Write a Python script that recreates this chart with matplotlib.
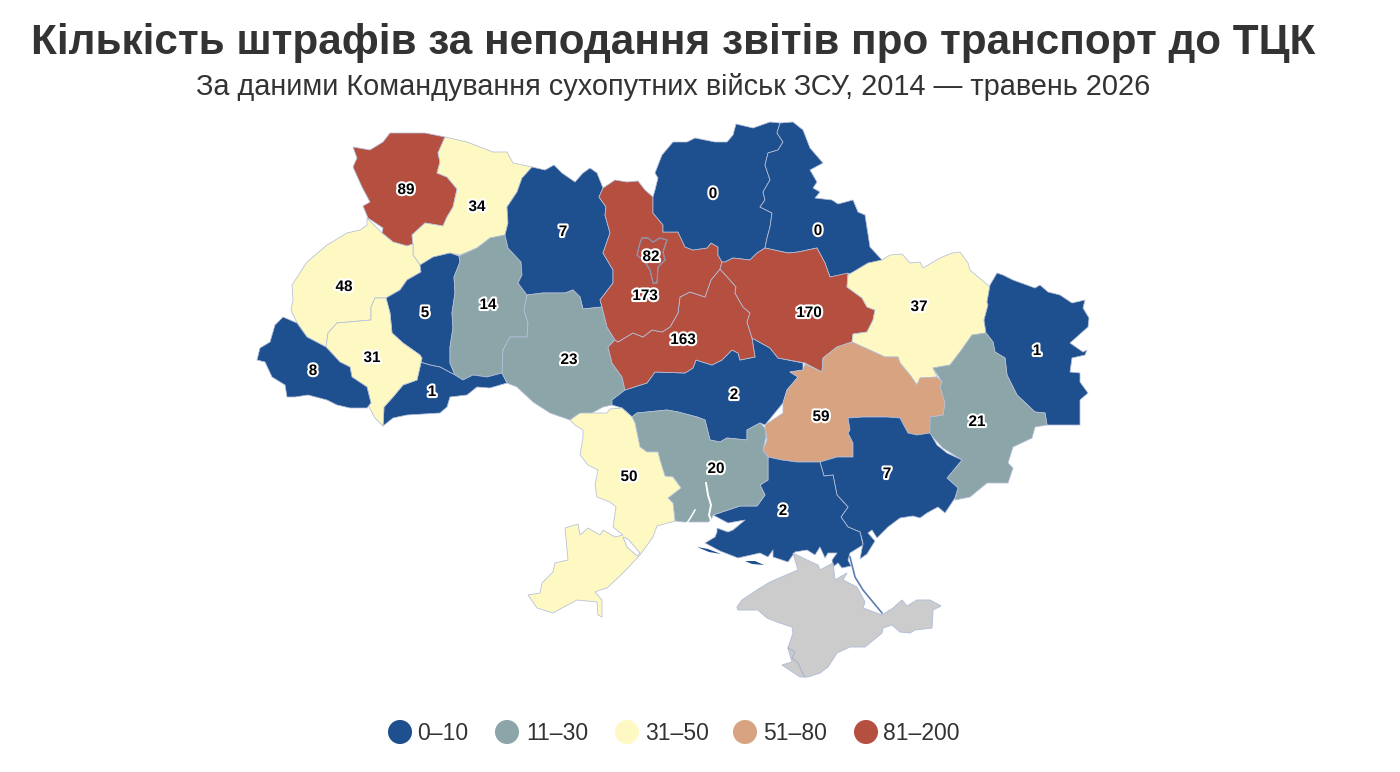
import matplotlib
matplotlib.use("Agg")
from matplotlib import pyplot as plt
from matplotlib import patheffects as pe

plt.rcParams['font.family'] = ['Liberation Sans', 'DejaVu Sans']

title = "Кількість штрафів за неподання звітів про транспорт до ТЦК"
subtitle = "За даними Командування сухопутних військ ЗСУ, 2014 — травень 2026"

# bins of the legend
bin_labels = ["0–10", "11–30", "31–50", "51–80", "81–200"]
bin_tops = [10, 30, 50, 80, 200]
bin_colors = ["#1e4f8e", "#8ba5a9", "#fef9c3", "#d8a380", "#b55041"]

# oblast values
regions = ["volyn", "rivne", "lviv", "ternopil", "khmelnytskyi", "chernivtsi", "frankivsk", "zakarpattia",
           "zhytomyr", "vinnytsia", "kirovohrad", "cherkasy", "kyiv_obl", "kyiv_city", "chernihiv", "sumy",
           "poltava", "kharkiv", "luhansk", "donetsk", "dnipro", "zaporizhzhia", "kherson", "mykolaiv", "odesa"]
values = [89, 34, 48, 5, 14, 1, 31, 8,
          7, 23, 2, 163, 173, 82, 0, 0,
          170, 37, 1, 21, 59, 7, 2, 20, 50]
label_x = [406, 477, 344, 425, 488, 432, 372, 313,
           563, 569, 734, 683, 645, 651, 713, 818,
           809, 919, 1037, 977, 821, 887, 783, 716, 629]
label_y = [190, 207, 287, 313, 305, 392, 358, 371,
           232, 360, 395, 340, 296, 257, 194, 231,
           313, 307, 351, 422, 417, 474, 511, 469, 477]

# outlines
volyn = [(353,147),(370,150),(383,142),(390,133),(425,133),(445,137),(438,153),(440,162),(437,173),(447,177),
         (457,189),(453,207),(447,217),(443,226),(425,223),(412,235),(413,244),(407,246),(393,242),(382,233),
         (383,228),(368,218),(363,206),(370,202),(362,187),(353,167),(357,158)]
rivne = [(445,137),(467,142),(493,152),(507,152),(513,163),(532,167),(528,175),(522,178),(517,192),(507,207),
         (508,223),(505,235),(490,238),(477,248),(460,255),(450,253),(435,257),(420,265),(413,255),(413,244),
         (412,235),(425,223),(443,226),(447,217),(453,207),(457,189),(447,177),(437,173),(440,162),(438,153)]
lviv = [(367,218),(382,233),(393,242),(407,246),(413,244),(413,255),(420,265),(421,272),(407,280),(400,290),
        (386,298),(375,298),(371,307),(371,320),(337,323),(328,333),(326,347),(307,337),(297,323),(291,310),
        (293,300),(292,285),(307,262),(327,245),(347,233),(360,230),(367,225)]
ternopil = [(420,265),(433,257),(450,253),(459,256),(460,262),(454,277),(455,293),(452,313),(453,328),(450,347),
            (450,363),(455,375),(440,367),(430,365),(420,362),(420,355),(403,343),(392,333),(390,313),(386,298),
            (400,290),(407,280),(421,272)]
khmelnytskyi = [(459,256),(477,248),(490,238),(505,235),(508,248),(521,262),(522,275),(518,283),(527,295),(524,310),
                (528,323),(527,337),(510,337),(503,350),(502,373),(487,377),(473,375),(463,380),(455,375),(450,363),
                (450,347),(453,328),(452,313),(455,293),(454,277),(460,262)]
chernivtsi = [(420,362),(430,365),(440,367),(455,375),(463,380),(473,375),(487,377),(502,373),(507,383),(490,388),
              (477,387),(467,395),(450,397),(447,407),(440,413),(407,415),(393,418),(383,426),(384,407),(393,397),
              (403,385),(417,380),(422,358)]
frankivsk = [(371,320),(371,307),(375,298),(386,298),(390,313),(392,333),(403,343),(420,355),(422,358),(417,380),
             (403,385),(393,397),(384,407),(383,426),(375,418),(368,405),(371,403),(367,387),(352,377),(350,367),
             (340,362),(326,347),(328,333),(337,323)]
zakarpattia = [(283,317),(297,323),(307,337),(326,347),(340,362),(350,367),(352,377),(367,387),(371,403),(367,408),
               (350,408),(337,405),(327,400),(308,395),(295,397),(287,397),(285,385),(272,377),(265,362),(257,360),
               (260,348),(270,342),(275,325)]
zhytomyr = [(532,167),(545,170),(554,165),(562,173),(575,182),(583,173),(590,168),(597,173),(603,188),(599,197),
            (606,207),(605,215),(610,233),(603,253),(613,270),(613,283),(600,300),(602,307),(583,309),(580,297),
            (573,290),(565,293),(543,293),(527,295),(518,283),(522,275),(521,262),(508,248),(505,235),(508,223),
            (507,207),(517,192),(522,178)]
vinnytsia = [(527,295),(543,293),(565,293),(573,290),(580,297),(583,309),(602,307),(607,327),(615,340),(608,347),
             (612,363),(622,377),(625,390),(612,400),(612,405),(603,407),(590,414),(577,415),(570,420),(550,413),
             (533,402),(517,387),(507,383),(502,373),(503,350),(510,337),(527,337),(528,323),(524,310)]
kirovohrad = [(625,390),(647,383),(655,372),(685,373),(693,368),(696,360),(712,365),(722,360),(732,350),(738,353),
              (740,360),(755,357),(752,338),(770,348),(778,358),(803,363),(803,370),(790,372),(798,377),(787,390),
              (783,403),(765,425),(760,423),(747,430),(747,440),(727,438),(720,442),(710,440),(705,420),(697,417),
              (678,412),(667,410),(637,413),(632,417),(622,408),(612,405),(612,400)]
cherkasy = [(615,340),(618,342),(633,333),(643,337),(652,330),(662,332),(670,327),(678,313),(680,297),(690,292),
            (705,297),(711,280),(720,269),(730,280),(736,287),(735,293),(743,307),(750,313),(747,322),(752,338),
            (755,357),(740,360),(738,353),(732,350),(722,360),(712,365),(696,360),(693,368),(685,373),(655,372),
            (647,383),(625,390),(622,377),(612,363),(608,347)]
kyiv_obl = [(603,188),(615,180),(627,182),(638,181),(645,190),(653,197),(653,213),(663,225),(663,232),(678,232),
            (685,247),(693,250),(707,248),(711,243),(718,247),(718,255),(722,262),(720,269),(711,280),(705,297),
            (690,292),(680,297),(678,313),(670,327),(662,332),(652,330),(643,337),(633,333),(618,342),(615,340),
            (607,327),(602,307),(600,300),(613,283),(613,270),(603,253),(610,233),(605,215),(606,207),(599,197)]
kyiv_city = [(642,238),(648,238),(653,242),(660,238),(667,240),(663,252),(665,260),(658,267),(657,283),(653,283),
             (650,270),(645,262),(637,255),(640,243)]
chernihiv = [(653,197),(655,190),(658,178),(655,173),(662,155),(673,142),(687,142),(695,138),(715,142),(727,142),
             (733,135),(736,124),(753,128),(770,122),(780,123),(777,133),(783,142),(778,150),(768,153),(765,165),
             (770,180),(763,192),(765,200),(760,207),(772,213),(770,227),(767,238),(765,248),(757,253),(750,260),
             (733,258),(725,262),(722,262),(718,255),(718,247),(711,243),(707,248),(693,250),(685,247),(678,232),
             (663,232),(663,225),(653,213)]
sumy = [(780,123),(793,122),(803,130),(810,148),(823,163),(810,170),(817,182),(813,188),(820,192),(815,198),
        (832,200),(838,204),(853,200),(858,212),(865,215),(870,247),(882,260),(867,265),(852,273),(830,277),
        (825,263),(817,248),(798,252),(788,253),(765,248),(767,238),(770,227),(772,213),(760,207),(765,200),
        (763,192),(770,180),(765,165),(768,153),(778,150),(783,142),(777,133)]
poltava = [(722,262),(725,262),(733,258),(750,260),(757,253),(765,248),(788,253),(798,252),(817,248),(825,263),
           (830,277),(848,273),(847,287),(862,298),(867,307),(875,310),(873,320),(867,332),(853,334),(852,342),
           (837,347),(823,358),(822,372),(805,363),(778,358),(770,348),(752,338),(747,322),(750,313),(743,307),
           (735,293),(736,287),(730,280),(720,269)]
kharkiv = [(848,275),(868,263),(882,260),(890,255),(902,254),(910,263),(920,262),(923,268),(940,258),(952,253),
           (960,252),(968,263),(970,270),(990,287),(987,302),(988,305),(984,320),(986,333),(972,335),(960,352),
           (950,365),(933,368),(937,377),(920,378),(917,385),(910,375),(900,363),(898,357),(885,357),(863,347),
           (852,342),(853,334),(867,332),(873,320),(875,310),(867,307),(862,298),(847,287)]
luhansk = [(990,285),(997,273),(1003,275),(1013,280),(1035,288),(1040,285),(1048,292),(1060,295),(1072,303),(1085,300),
           (1083,308),(1089,318),(1088,327),(1070,343),(1083,352),(1087,350),(1085,355),(1072,358),(1070,372),(1080,373),
           (1080,382),(1088,393),(1080,400),(1080,425),(1047,425),(1045,413),(1035,412),(1017,395),(1007,375),(1005,358),
           (995,352),(993,342),(986,333),(984,320),(988,305),(987,302)]
donetsk = [(972,335),(986,333),(993,342),(995,352),(1005,358),(1007,375),(1017,395),(1035,412),(1045,413),(1047,425),
           (1035,427),(1032,438),(1013,447),(1008,463),(1013,468),(1008,483),(987,483),(970,497),(955,500),(958,488),
           (947,478),(960,463),(962,460),(943,448),(928,432),(930,417),(943,415),(945,403),(940,387),(942,382),
           (933,368),(950,365),(960,352)]
dnipro = [(823,358),(837,347),(852,342),(863,347),(885,357),(898,357),(900,363),(910,375),(917,385),(920,378),
          (937,377),(942,382),(940,387),(945,403),(943,415),(930,417),(930,433),(917,435),(908,433),(900,418),
          (887,417),(863,417),(848,418),(850,430),(848,433),(853,443),(853,457),(837,457),(820,462),(797,462),
          (782,460),(768,457),(763,450),(767,440),(765,425),(783,413),(783,403),(787,390),(798,377),(790,372),
          (803,370),(805,364),(822,372)]
zaporizhzhia = [(820,462),(837,457),(853,457),(853,443),(848,433),(850,430),(848,418),(863,417),(887,417),(900,418),
                (908,433),(917,435),(930,433),(937,445),(947,453),(962,460),(947,478),(958,488),(955,498),(945,513),
                (938,507),(927,513),(920,518),(913,516),(900,518),(888,527),(877,538),(872,530),(868,533),(875,541),
                (867,554),(860,559),(863,543),(860,532),(848,527),(841,517),(848,507),(837,495),(833,475),(824,476)]
kherson = [(768,457),(782,460),(797,462),(820,462),(824,476),(833,475),(837,495),(848,507),(841,517),(848,527),
           (860,532),(863,545),(850,553),(848,560),(851,566),(842,568),(838,563),(833,567),(832,560),(837,553),
           (828,553),(825,558),(820,547),(815,555),(807,550),(795,552),(788,562),(773,557),(773,550),(768,557),
           (760,553),(738,558),(720,551),(705,543),(715,537),(717,532),(717,528),(728,532),(733,530),(745,520),
           (728,523),(713,515),(740,506),(757,506),(765,495),(760,485),(768,480)]
tendra = [(697,547),(708,549),(721,554),(709,552)]
dzharylhach = [(745,561),(755,561),(764,565),(752,564)]
mykolaiv = [(632,417),(637,413),(667,410),(678,412),(697,417),(705,420),(710,440),(720,442),(727,438),(747,440),
            (747,430),(760,423),(765,428),(766,437),(763,450),(768,457),(768,480),(760,485),(765,495),(757,506),
            (740,506),(713,515),(711,520),(708,522),(690,522),(683,522),(675,521),(673,503),(668,498),(681,488),
            (673,477),(665,476),(660,460),(658,452),(647,452),(640,447),(635,423)]
odesa = [(570,420),(580,413),(607,413),(610,409),(622,408),(632,417),(635,423),(640,447),(647,452),(658,452),
         (660,460),(665,476),(673,477),(681,488),(668,498),(673,503),(675,521),(657,526),(653,537),(640,555),
         (623,573),(607,588),(600,590),(595,592),(602,600),(602,617),(598,615),(597,602),(577,600),(562,608),
         (553,613),(537,608),(528,595),(540,593),(542,583),(553,572),(555,563),(568,560),(565,528),(578,524),
         (580,535),(588,528),(600,535),(603,530),(615,537),(623,535),(613,527),(616,507),(610,502),(597,497),
         (595,485),(598,470),(588,465),(580,455),(583,437),(583,430),(575,425)]
crimea = [(737,607),(742,600),(757,590),(770,582),(798,570),(793,553),(807,560),(818,565),(820,570),(833,563),
          (835,580),(847,573),(843,580),(857,587),(865,602),(863,608),(882,615),(893,608),(902,600),(907,606),
          (917,600),(930,600),(941,606),(933,610),(932,628),(915,630),(910,633),(900,632),(892,625),(883,628),
          (882,633),(865,647),(850,647),(837,653),(828,667),(820,673),(808,677),(800,677),(782,665),(792,662),
          (788,648),(793,633),(792,627),(777,622),(767,618),(758,610),(747,610),(738,610)]
sevastopol_line = [(788,648),(795,652),(792,658),(798,663),(802,672),(805,677)]
arabat_line = [(850,557),(855,577),(863,590),(882,613)]
dniester_liman = [(623,537),(628,539),(640,553),(637,556),(627,547)]
river_mouth = [(706,483),(708,495),(711,505),(709,515),(712,523)]
bug_mouth = [(695,510),(691,517),(687,523)]

outlines = [volyn, rivne, lviv, ternopil, khmelnytskyi, chernivtsi, frankivsk, zakarpattia,
            zhytomyr, vinnytsia, kirovohrad, cherkasy, kyiv_obl, kyiv_city, chernihiv, sumy,
            poltava, kharkiv, luhansk, donetsk, dnipro, zaporizhzhia, kherson, mykolaiv, odesa]


def bin_color(val):
    for top, col in zip(bin_tops, bin_colors):
        if val <= top:
            return col
    return bin_colors[-1]


EDGE = "#b4bfd8"

fig = plt.figure(figsize=(14, 7.72), dpi=100)
ax = fig.add_axes([0, 0, 1, 1])
ax.set_xlim(0, 1400)
ax.set_ylim(772, 0)
ax.axis("off")

# kyiv_city goes on top of the oblast, so draw it last
order = sorted(range(len(regions)), key=lambda i: regions[i] == "kyiv_city")
for i in order:
    xs, ys = zip(*outlines[i])
    col = bin_color(values[i])
    ax.fill(xs, ys, facecolor=col, edgecolor=EDGE, linewidth=0.55, joinstyle="round", zorder=2)

ax.fill(*zip(*kyiv_city), facecolor="none", edgecolor="#8f8fa8", linewidth=0.9, zorder=3)

ax.fill(*zip(*crimea), facecolor="#cccccc", edgecolor=EDGE, linewidth=0.7, zorder=2)
ax.plot(*zip(*sevastopol_line), color="#aab4cf", linewidth=0.8, zorder=3)
ax.plot(*zip(*arabat_line), color="#5d7db0", linewidth=1.2, zorder=2)

for islet in [tendra, dzharylhach]:
    ax.fill(*zip(*islet), facecolor=bin_colors[0], edgecolor="none", zorder=2)

ax.fill(*zip(*dniester_liman), facecolor="white", edgecolor=EDGE, linewidth=0.6, zorder=3)
ax.plot(*zip(*river_mouth), color="white", linewidth=1.4, zorder=3)
ax.plot(*zip(*bug_mouth), color="white", linewidth=1.1, zorder=3)

halo = [pe.withStroke(linewidth=3, foreground="white")]
for x, y, val in zip(label_x, label_y, values):
    ax.text(x, y, str(val), fontsize=11, fontweight="bold", color="black", ha="center", va="center",
            path_effects=halo, zorder=5)

fig.text(673 / 1400, 1 - 54 / 772, title, fontsize=30.4, fontweight="bold", color="#333333",
         ha="center", va="baseline")
fig.text(673 / 1400, 1 - 95 / 772, subtitle, fontsize=20.8, color="#333333", ha="center", va="baseline")

# legend row
legend_dot_x = [400, 507, 627, 745, 866]
legend_text_x = [417, 526, 645, 763, 883]
for dx, tx, lab, col in zip(legend_dot_x, legend_text_x, bin_labels, bin_colors):
    ax.scatter([dx], [732], s=300, color=col, edgecolor="none", zorder=3)
    ax.text(tx, 733, lab, fontsize=16.5, color="#333333", ha="left", va="center")

fig.savefig("out.png", dpi=100)
